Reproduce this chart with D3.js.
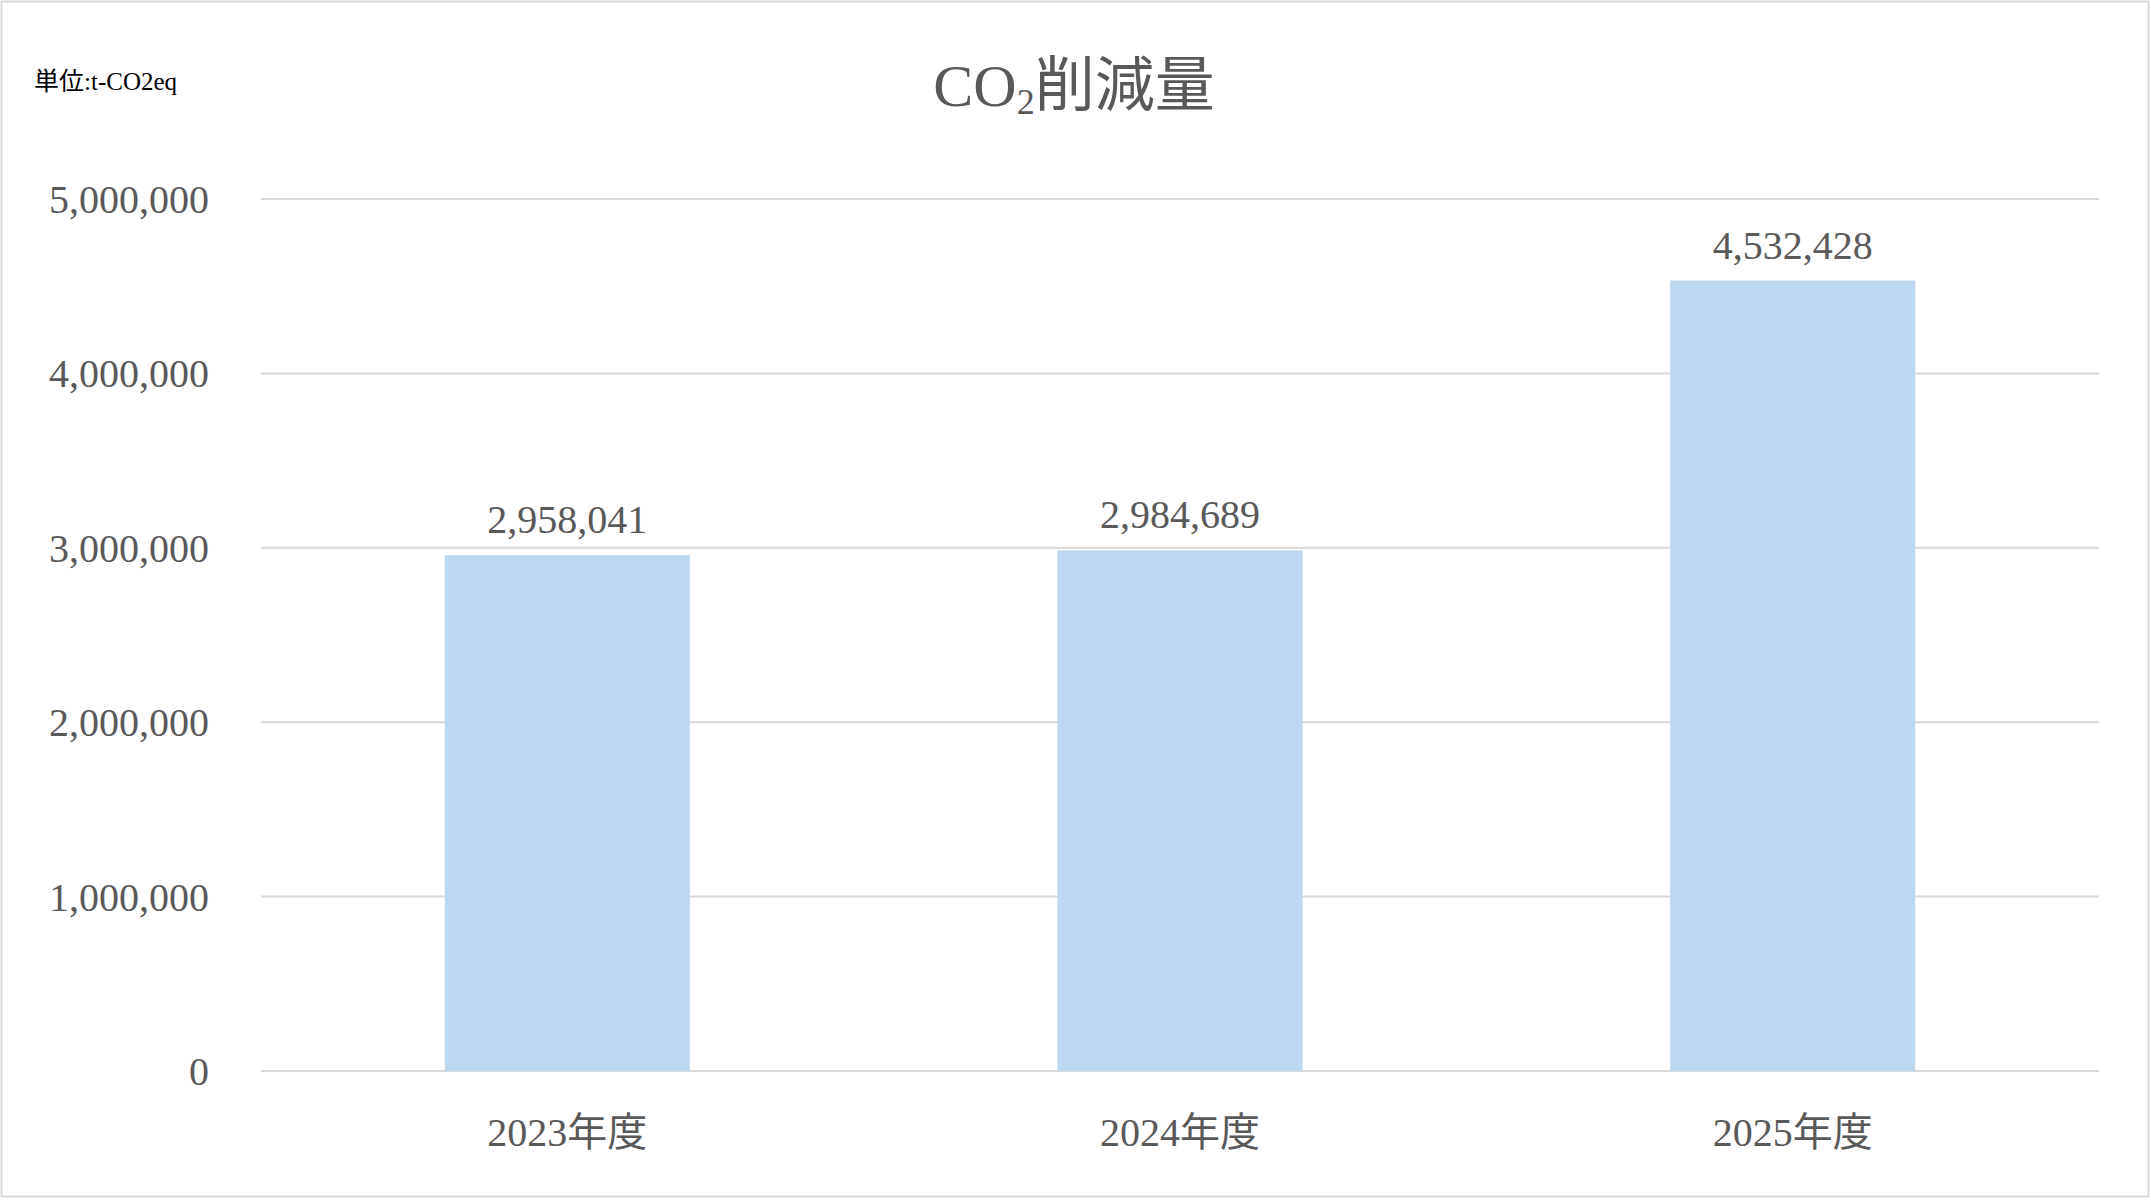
<!DOCTYPE html><html><head><meta charset="utf-8"><script src="https://cdn.jsdelivr.net/npm/d3@7"></script>
<style>body{margin:0;background:#fff}svg{display:block}text{font-family:"Liberation Serif","Noto Sans CJK JP",serif;fill:#595959}</style></head><body><svg id="c" width="2151" height="1200"></svg>
<script>
const categories=["2023年度","2024年度","2025年度"];
const values=[2958041,2984689,4532428];
const ticks=[0,1000000,2000000,3000000,4000000,5000000];
const svg=d3.select("#c");
svg.append("rect").attr("x",1.5).attr("y",1.5).attr("width",2147).attr("height",1195).attr("fill","none").attr("stroke","#d9d9d9").attr("stroke-width",2);
const L=261,R=2099,T=199,B=1071;
const x=d3.scaleBand().domain(categories).range([L,R]).paddingInner(0.6).paddingOuter(0.3);
const y=d3.scaleLinear().domain([0,5000000]).range([B,T]);
const fmt=d3.format(",");
svg.append("g").selectAll("line").data(ticks).join("line").attr("x1",L).attr("x2",R).attr("y1",d=>y(d)).attr("y2",d=>y(d)).attr("stroke","#d9d9d9").attr("stroke-width",2);
svg.append("g").selectAll("text").data(ticks).join("text").attr("x",209).attr("y",d=>y(d)).attr("dy","0.35em").attr("text-anchor","end").attr("font-size",40).text(d=>fmt(d));
svg.append("g").selectAll("rect").data(values).join("rect").attr("x",(d,i)=>x(categories[i])).attr("width",x.bandwidth()).attr("y",d=>y(d)).attr("height",d=>B-y(d)).attr("fill","#bdd7ee");
svg.append("g").selectAll("text").data(values).join("text").attr("x",(d,i)=>x(categories[i])+x.bandwidth()/2).attr("y",d=>y(d)-22).attr("text-anchor","middle").attr("font-size",40).text(d=>fmt(d));
svg.append("g").selectAll("text").data(categories).join("text").attr("x",d=>x(d)+x.bandwidth()/2).attr("y",1146).attr("text-anchor","middle").attr("font-size",40).text(d=>d);
const t=svg.append("text").attr("x",1074).attr("y",106).attr("text-anchor","middle").attr("font-size",60);
t.append("tspan").text("CO");t.append("tspan").attr("font-size",36).attr("dy",8).text("2");t.append("tspan").attr("dy",-8).text("削減量");
svg.append("text").attr("x",34).attr("y",90).attr("font-size",25).style("fill","#000").text("単位:t-CO2eq");
</script></body></html>
